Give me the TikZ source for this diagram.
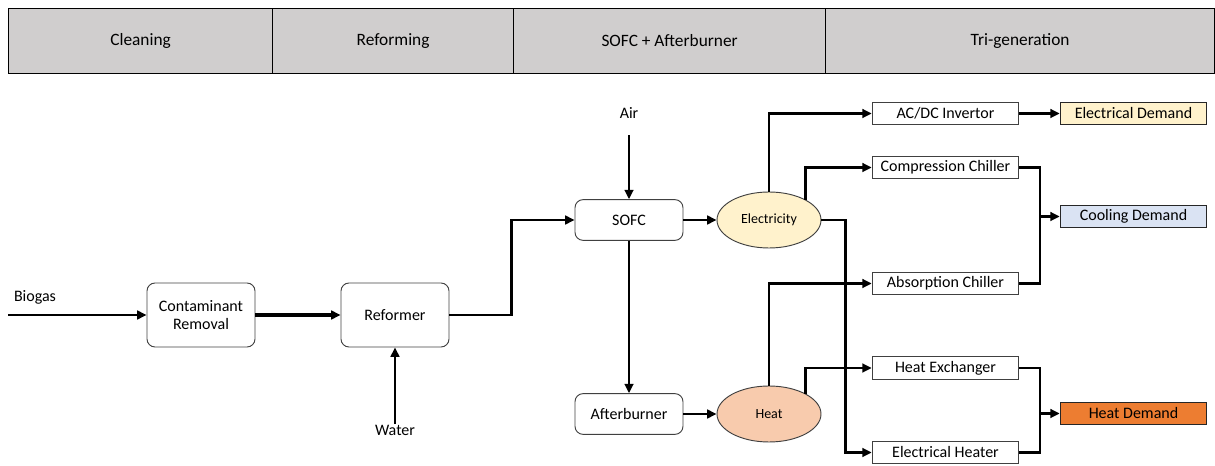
\documentclass[tikz,border=0pt]{standalone}
\usepackage{fontspec}
\setmainfont{Carlito}
\usepackage{tikz}
\usetikzlibrary{arrows.meta,shapes}

\definecolor{hdrgray}{HTML}{D0CECE}
\definecolor{elecyel}{HTML}{FFF2CC}
\definecolor{coolblu}{HTML}{DAE3F3}
\definecolor{heatorg}{HTML}{ED7D31}
\definecolor{heatpch}{HTML}{F8CBAD}
\definecolor{edgegray}{HTML}{404040}

\begin{document}
\begin{tikzpicture}[x=0.75pt,y=-0.75pt]
	\tikzstyle{every node}+=[font=\fontsize{12}{14}\selectfont]
	\tikzstyle{hdr}=[draw=black, line width=0.9pt, fill=hdrgray, anchor=west, minimum height=48.75pt, inner sep=0pt, font=\fontsize{13}{15}\selectfont]
	\tikzstyle{unit}=[draw=edgegray, line width=0.7pt, rounded corners=6pt, minimum width=81pt, minimum height=48pt, align=center, inner sep=2pt]
	\tikzstyle{stack}=[unit, minimum height=30.5pt]
	\tikzstyle{conv}=[draw=edgegray, line width=0.7pt, minimum width=110pt, minimum height=17pt, inner sep=1pt]
	\tikzstyle{need}=[conv, draw=black!85]
	\tikzstyle{carrier}=[draw=edgegray, line width=0.7pt, ellipse, minimum width=78pt, minimum height=42pt, inner sep=0pt, font=\fontsize{10.5}{12}\selectfont]
	\tikzstyle{flow}=[line width=2.2pt, -{Triangle[length=7pt,width=6.5pt]}]
	\tikzstyle{pipe}=[line width=2.2pt]
	\useasboundingbox (0,0) rectangle (1215,466);

	\node [hdr, minimum width=198pt] (hclean) at (8,41) {Cleaning};
	\node [hdr, minimum width=180.75pt] (hreform) at (272,41) {Reforming};
	\node [hdr, minimum width=234pt] (hsofc) at (513,41) {SOFC + Afterburner};
	\node [hdr, minimum width=291.75pt] (htri) at (825,41) {Tri-generation};

	\node (biogas) at (35,297) {Biogas};
	\coordinate (bgin) at (8,315);
	\node [unit] (cont) at (201,315) {Contaminant\\Removal};
	\node [unit] (ref) at (395,315) {Reformer};
	\node (water) at (395,430) {Water};
	\node (air) at (629,113) {Air};
	\node [stack] (sofc) at (629,220) {SOFC};
	\node [stack] (aft) at (629,414) {Afterburner};
	\node [carrier, fill=elecyel] (elec) at (769,220) {Electricity};
	\node [carrier, fill=heatpch] (heat) at (769,414) {Heat};

	\node [conv] (inv) at (945.5,113.5) {AC/DC Invertor};
	\node [conv] (comp) at (945.5,167.5) {Compression Chiller};
	\node [conv] (abs) at (945.5,283.5) {Absorption Chiller};
	\node [conv] (hx) at (945.5,368) {Heat Exchanger};
	\node [conv] (eheat) at (945.5,452.5) {Electrical Heater};
	\node [need, fill=elecyel] (edem) at (1133.5,113.5) {Electrical Demand};
	\node [need, fill=coolblu] (cdem) at (1133.5,216.5) {Cooling Demand};
	\node [need, fill=heatorg] (hdem) at (1133.5,413.5) {Heat Demand};
	\coordinate (coolj) at (1040,216.5);
	\coordinate (heatj) at (1040,413.5);

	\draw [flow] (bgin) -- (cont.west);
	\draw [flow, line width=2.6pt] (cont.east) -- (ref.west);
	\draw [flow] ([yshift=-3pt]water.north) -- (ref.south);
	\draw [flow] (ref.east) -- ++(62,0) |- (sofc.west);
	\draw [flow] ([yshift=-9pt]air.south) -- (sofc.north);
	\draw [flow] (sofc.south) -- (aft.north);
	\draw [flow] (sofc.east) -- (elec.west);
	\draw [flow] (aft.east) -- (heat.west);
	\draw [flow] (elec.north) |- (inv.west);
	\draw [flow] (elec.29) |- (comp.west);
	\draw [flow] (elec.east) -- ++(24,0) |- (eheat.west);
	\draw [flow] (heat.north) |- (abs.west);
	\draw [flow] (heat.29) |- (hx.west);
	\draw [flow] (inv.east) -- (edem.west);
	\draw [pipe] (comp.east) -| (coolj) |- (abs.east);
	\draw [flow] (coolj) -- (cdem.west);
	\draw [pipe] (hx.east) -| (heatj) |- (eheat.east);
	\draw [flow] (heatj) -- (hdem.west);
\end{tikzpicture}
\end{document}
